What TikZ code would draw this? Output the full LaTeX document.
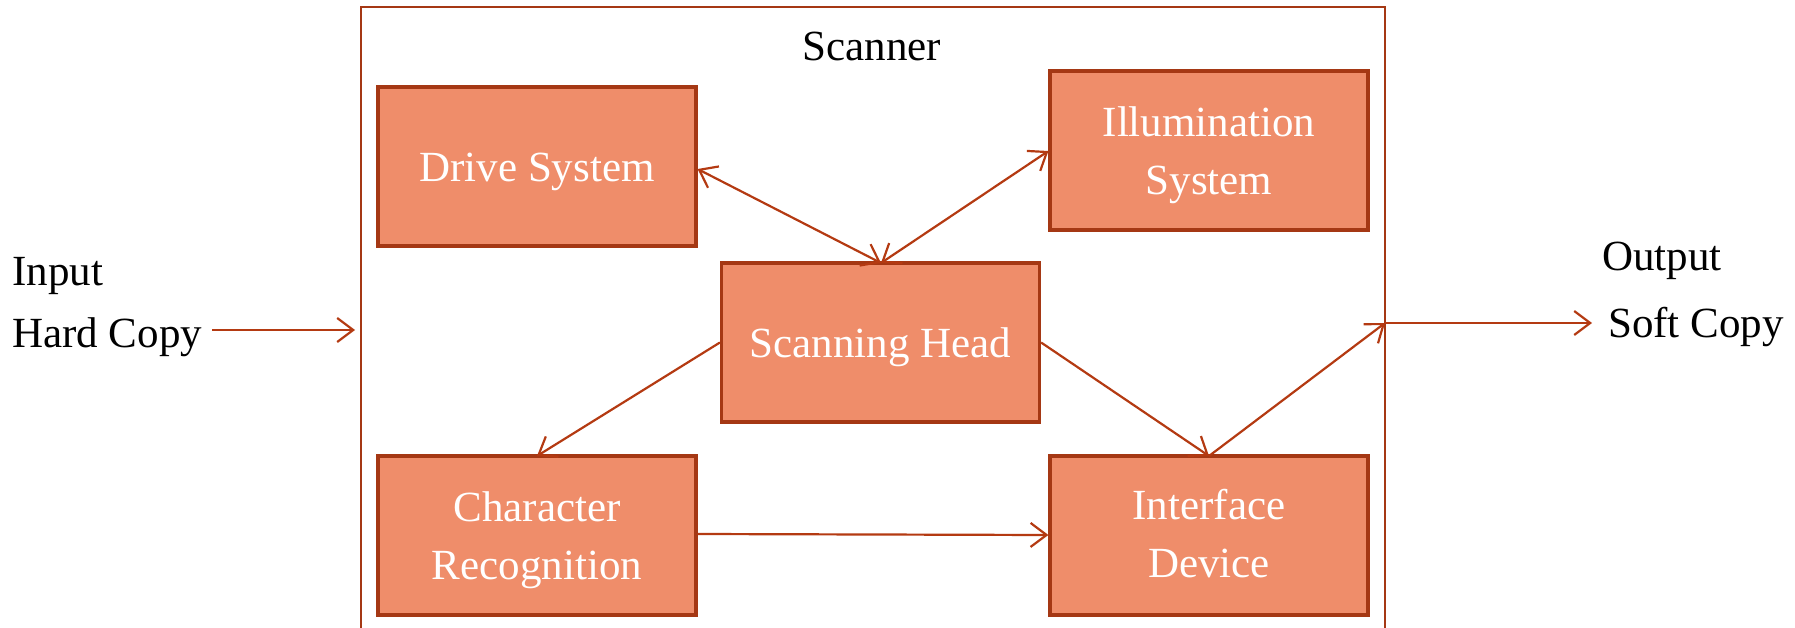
\documentclass[tikz,border=0pt]{standalone}
\usepackage{fontspec}
\setmainfont{Liberation Serif}
\usetikzlibrary{arrows.meta}
\definecolor{boxfill}{RGB}{239,141,106}
\definecolor{edge}{RGB}{165,56,20}
\definecolor{wire}{RGB}{180,58,18}
\begin{document}
\begin{tikzpicture}[x=1pt,y=-1pt,
  blk/.style={draw=edge,line width=3.2pt,fill=boxfill,
    minimum width=318pt,minimum height=159pt,inner sep=0pt},
  blktext/.style={text=white,align=center,inner sep=0pt,
    font=\fontsize{43}{58}\selectfont},
  lbl/.style={text=black,inner sep=0pt,font=\fontsize{43}{58}\selectfont},
  link/.style={draw=wire,line width=2.2pt,-{Straight Barb[length=16pt,width=24pt,line width=2.2pt]}},
  link2/.style={link,{Straight Barb[length=16pt,width=24pt,line width=2.2pt]}-{Straight Barb[length=16pt,width=24pt,line width=2.2pt]}}]
\useasboundingbox (0,0) rectangle (1795,628);
% scanner frame, open at the bottom
\draw[edge,line width=2.6pt] (361,628) -- (361,7) -- (1385,7) -- (1385,628);
\node[lbl] (scanner) at (872,46) {Scanner};
% inner units
\node[blk] (drive) at (537,166.5) {};
\node[blk] (illum) at (1209,150.5) {};
\node[blk] (head)  at (880.5,342.5) {};
\node[blk] (char)  at (537,535.5) {};
\node[blk] (iface) at (1209,535.5) {};
\node[blktext] (drivet) at ([yshift=-5pt]drive.center) {Drive System};
\node[blktext] (illumt) at ([yshift=-5pt]illum.center) {Illumination\\System};
\node[blktext] (headt)  at ([yshift=-5pt]head.center) {Scanning Head};
\node[blktext] (chart)  at ([yshift=-5pt]char.center) {Character\\Recognition};
\node[blktext] (ifacet) at ([yshift=2pt]iface.center) {Interface\\Device};
% outside labels
\node[lbl,anchor=west] (in1) at (12,276) {Input};
\node[lbl,anchor=west] (in2) at (12,337) {Hard Copy};
\node[lbl,anchor=west] (out1) at (1602,261) {Output};
\node[lbl,anchor=west] (out2) at (1608,327) {Soft Copy};
% points on and near the frame
\coordinate (instart) at (212,330);
\coordinate (inport) at (355,330);
\coordinate (outport) at (1385,323);
\coordinate (outend) at (1592,323);
\coordinate (headtop) at (881,263);
\coordinate (ifacetop) at (1209,456);
\coordinate (chartop) at (537,456);
% connectors
\draw[link] (instart) -- (inport);
\draw[link2] (drive.east |- 0,169) -- (headtop);
\draw[link2] (illum.west |- 0,151) -- (headtop);
\draw[link] (head.west) -- (chartop);
\draw[link] (head.east) -- (ifacetop);
\draw[link] (ifacetop) -- (outport);
\draw[link] (outport) -- (outend);
\draw[link] (char.east |- 0,534) -- (iface.west |- 0,535);
\end{tikzpicture}
\end{document}
